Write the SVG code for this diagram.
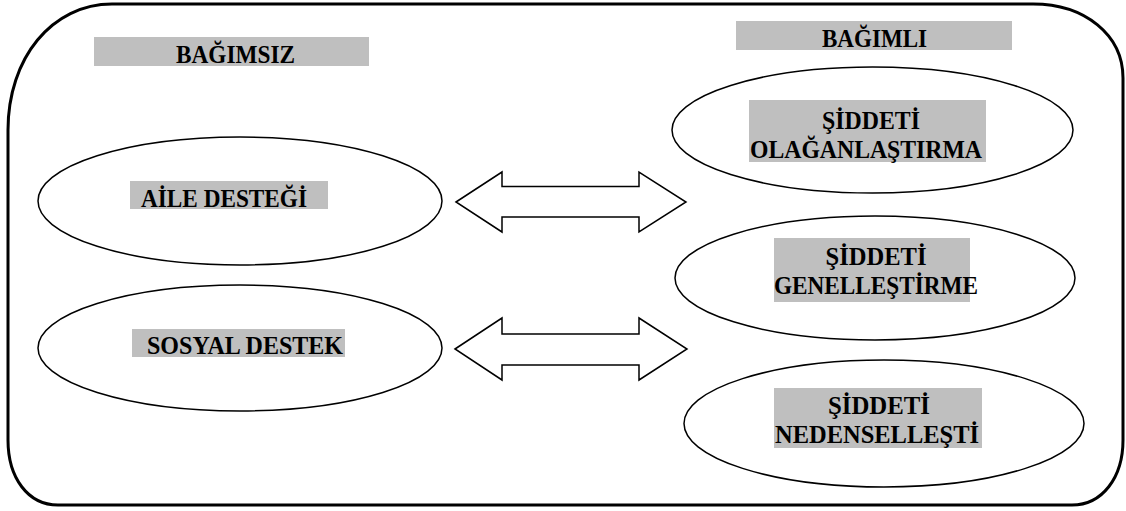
<svg xmlns="http://www.w3.org/2000/svg" width="1126" height="511" viewBox="0 0 1126 511">
<style>
.frame{fill:none;stroke:#000;stroke-width:3}
.node{fill:#fff;stroke:#000;stroke-width:1.5}
.hl{fill:#bfbfbf}
.lbl{font-family:"Liberation Serif","Times New Roman",serif;font-weight:bold;font-size:25px;fill:#000;text-anchor:middle}
.arrow{fill:#fff;stroke:#000;stroke-width:1.5;stroke-linejoin:miter}
</style>
<rect width="1126" height="511" fill="#fff"/>
<path class="frame" d="M112,4 L1033,4 C1085,4 1123,35 1123,78 L1123,440 C1123,478 1102,505 1072,505 L58,505 C28,505 8,478 8,440 L8,130 C8,58 52,4 112,4 Z"/>
<g id="lbl-bagimsiz">
<rect class="hl" x="94" y="37" width="275" height="29"/>
<text class="lbl" x="235.5" y="63" textLength="119" lengthAdjust="spacingAndGlyphs">BAĞIMSIZ</text>
</g>
<g id="lbl-bagimli">
<rect class="hl" x="736" y="21" width="276" height="29"/>
<text class="lbl" x="874.5" y="47" textLength="105" lengthAdjust="spacingAndGlyphs">BAĞIMLI</text>
</g>
<g id="node-aile">
<ellipse class="node" cx="240" cy="201" rx="202" ry="64"/>
<rect class="hl" x="130" y="181" width="198" height="28"/>
<text class="lbl" x="224" y="207" textLength="166" lengthAdjust="spacingAndGlyphs">AİLE DESTEĞİ</text>
</g>
<g id="node-sosyal">
<ellipse class="node" cx="240" cy="348" rx="202" ry="63"/>
<rect class="hl" x="132" y="329" width="213" height="28"/>
<text class="lbl" x="245" y="354" textLength="196" lengthAdjust="spacingAndGlyphs">SOSYAL DESTEK</text>
</g>
<g id="node-olaganlastirma">
<ellipse class="node" cx="872.5" cy="130" rx="200.5" ry="63"/>
<rect class="hl" x="749" y="100" width="237" height="62"/>
<text class="lbl" x="871" y="129" textLength="98" lengthAdjust="spacingAndGlyphs">ŞİDDETİ</text>
<text class="lbl" x="866" y="158" textLength="232" lengthAdjust="spacingAndGlyphs">OLAĞANLAŞTIRMA</text>
</g>
<g id="node-genellestirme">
<ellipse class="node" cx="875" cy="278" rx="200" ry="62"/>
<rect class="hl" x="774" y="238" width="196" height="64"/>
<text class="lbl" x="876" y="265" textLength="101" lengthAdjust="spacingAndGlyphs">ŞİDDETİ</text>
<text class="lbl" x="876" y="294" textLength="204" lengthAdjust="spacingAndGlyphs">GENELLEŞTİRME</text>
</g>
<g id="node-nedensellesti">
<ellipse class="node" cx="884" cy="423.5" rx="200" ry="63.5"/>
<rect class="hl" x="774" y="388" width="208" height="60"/>
<text class="lbl" x="879" y="414" textLength="102" lengthAdjust="spacingAndGlyphs">ŞİDDETİ</text>
<text class="lbl" x="877" y="443" textLength="204" lengthAdjust="spacingAndGlyphs">NEDENSELLEŞTİ</text>
</g>
<g id="connectors">
<path class="arrow" d="M456,202 L502,172 L502,186.5 L639,186.5 L639,172 L686,202 L639,232 L639,217 L502,217 L502,232 Z"/>
<path class="arrow" d="M455,349 L502,318 L502,334 L639,334 L639,318 L687,349 L639,380 L639,365 L502,365 L502,380 Z"/>
</g>
</svg>
